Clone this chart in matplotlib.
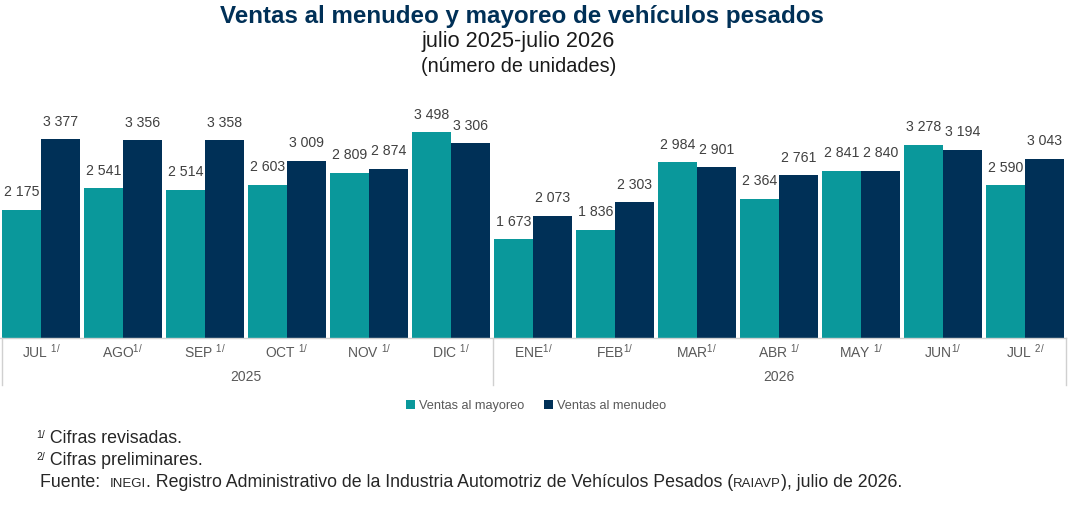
import matplotlib
matplotlib.use('Agg')
import matplotlib.pyplot as plt
from matplotlib.lines import Line2D
import numpy as np

plt.rcParams['font.family'] = ['Liberation Sans', 'DejaVu Sans']
plt.rcParams['mathtext.fontset'] = 'custom'
plt.rcParams['mathtext.rm'] = 'Liberation Sans'
plt.rcParams['mathtext.it'] = 'Liberation Sans'
plt.rcParams['mathtext.default'] = 'regular'

# data
months = ['JUL ', 'AGO', 'SEP ', 'OCT ', 'NOV ', 'DIC ',
          'ENE', 'FEB', 'MAR', 'ABR ', 'MAY ', 'JUN', 'JUL ']
notes = ['1/'] * 12 + ['2/']
years = ['2025', '2026']
year_span = [(0, 5), (6, 12)]
mayoreo = [2175, 2541, 2514, 2603, 2809, 3498, 1673, 1836, 2984, 2364, 2841, 3278, 2590]
menudeo = [3377, 3356, 3358, 3009, 2874, 3306, 2073, 2303, 2901, 2761, 2840, 3194, 3043]

TEAL = '#0A989B'
NAVY = '#003057'
GRAY = '#595959'
W, H = 1068, 524

fig = plt.figure(figsize=(W / 100, H / 100), dpi=100)


def ypix(p):
    return (H - p) / H


# axes placed in pixel terms: baseline y=338, top y=85
base, top = 338, 85
ax = fig.add_axes([0 / W, (H - base) / H, 1066 / W, (base - top) / H])
ax.set_xlim(-0.5, len(months) - 0.5)
ax.set_ylim(0, 4295)
for s in ax.spines.values():
    s.set_visible(False)
ax.set_xticks([])
ax.set_yticks([])

x = np.arange(len(months))
bw = 0.475
b1 = ax.bar(x - bw / 2, mayoreo, bw, color=TEAL, label='Ventas al mayoreo')
b2 = ax.bar(x + bw / 2, menudeo, bw, color=NAVY, label='Ventas al menudeo')

for bars in (b1, b2):
    for r in bars:
        v = int(r.get_height())
        ax.annotate(f'{v // 1000} {v % 1000:03d}', (r.get_x() + r.get_width() / 2, v),
                    xytext=(0, 7.5), textcoords='offset points', ha='center', va='bottom',
                    fontsize=10.2, color='#404040')

# category box lines
lc = '#D0D0D0'
fig.add_artist(Line2D([0 / W, 1066 / W], [ypix(base)] * 2, color=lc, lw=1))
for px in (1.5, 492.5, 1066):
    fig.add_artist(Line2D([px / W] * 2, [ypix(base), ypix(385)], color=lc, lw=1))

# month and year labels
for i, (m, n) in enumerate(zip(months, notes)):
    xf = ax.transData.transform((i, 0))[0] / W
    fig.text(xf, ypix(352), f'{m}$^{{{n}}}$', ha='center', va='center',
             fontsize=10, color=GRAY)
for yr, (a, b) in zip(years, year_span):
    xf = ax.transData.transform(((a + b) / 2, 0))[0] / W
    fig.text(xf, ypix(377), yr, ha='center', va='center', fontsize=10, color=GRAY)

# legend
fig.legend(handles=[b1, b2], loc='center', bbox_to_anchor=(536 / W, ypix(406)), ncol=2,
           frameon=False, fontsize=9.2, labelcolor=GRAY, handlelength=0.7, handleheight=0.7,
           handletextpad=0.3, columnspacing=1.6)

# titles
fig.text(522 / W, ypix(16), 'Ventas al menudeo y mayoreo de vehículos pesados', ha='center',
         va='center', fontsize=17.4, fontweight='bold', color=NAVY)
fig.text(518 / W, ypix(42), 'julio 2025-julio 2026', ha='center', va='center',
         fontsize=15.6, color='#1a1a1a')
fig.text(519 / W, ypix(66), '(número de unidades)', ha='center', va='center',
         fontsize=14.3, color='#1a1a1a')

# footer, written piece by piece
renderer = fig.canvas.get_renderer()


def seq_text(x0, y0, parts):
    xp = x0
    for s, size, dy in parts:
        t = fig.text(xp / W, ypix(y0 - dy), s, ha='left', va='baseline', fontsize=size,
                     color='#262626')
        xp += t.get_window_extent(renderer).width


seq_text(36, 443, [('1/', 7.5, 5), (' Cifras revisadas.', 12.8, 0)])
seq_text(36, 465, [('2/', 7.5, 5), (' Cifras preliminares.', 12.8, 0)])
seq_text(40, 487, [('Fuente:  ', 12.8, 0), ('INEGI', 9.5, 0),
                   ('. Registro Administrativo de la Industria Automotriz de Vehículos Pesados (', 12.8, 0),
                   ('RAIAVP', 9.5, 0), ('), julio de 2026.', 12.8, 0)])

fig.savefig('out.png', dpi=100)
